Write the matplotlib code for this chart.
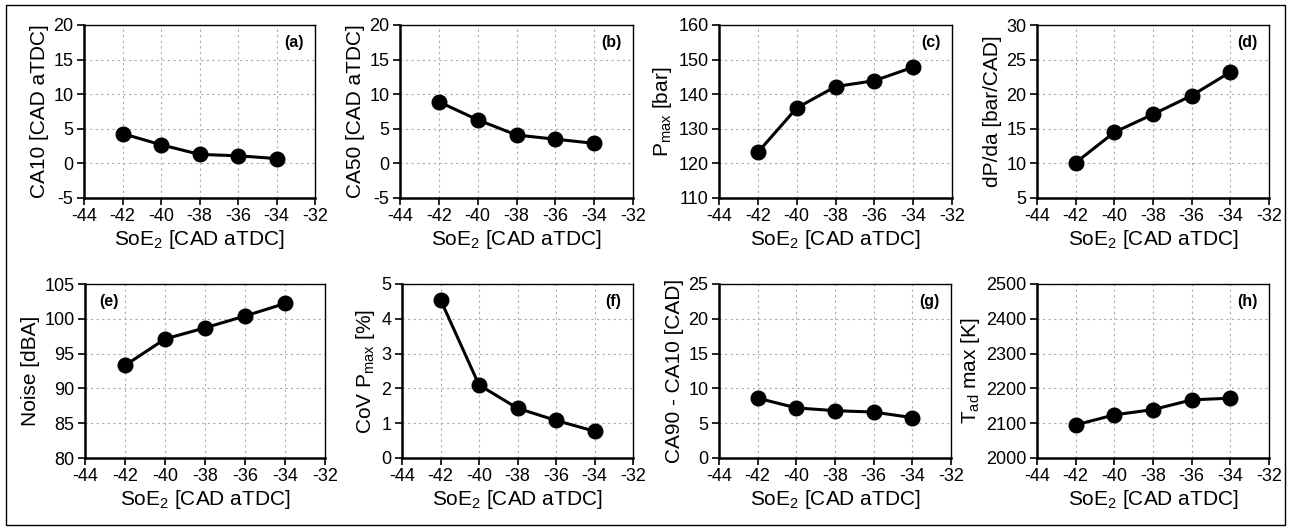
import numpy as np
import matplotlib.pyplot as plt
from matplotlib.patches import Rectangle

plt.rcParams['font.family'] = ['Liberation Sans', 'DejaVu Sans']
plt.rcParams['mathtext.default'] = 'regular'
plt.rcParams['axes.unicode_minus'] = False

# start of energizing 2 [CAD aTDC]
soe = [-42, -40, -38, -36, -34]

ca10 = [4.3, 2.7, 1.3, 1.1, 0.7]
ca50 = [8.9, 6.3, 4.1, 3.5, 2.9]
pmax = [123.2, 136.0, 142.2, 143.9, 147.8]
dpda = [10.1, 14.5, 17.1, 19.8, 23.2]
noise = [93.3, 97.1, 98.7, 100.4, 102.2]
cov_pmax = [4.55, 2.1, 1.43, 1.08, 0.77]
ca90_ca10 = [8.6, 7.2, 6.8, 6.6, 5.8]
tad_max = [2095, 2124, 2139, 2167, 2172]

ylabels = ['CA10 [CAD aTDC]', 'CA50 [CAD aTDC]', 'P$_{max}$ [bar]', 'dP/da [bar/CAD]',
           'Noise [dBA]', 'CoV P$_{max}$ [%]', 'CA90 - CA10 [CAD]', 'T$_{ad}$ max [K]']
ylims = [(-5, 20, 5), (-5, 20, 5), (110, 160, 10), (5, 30, 5),
         (80, 105, 5), (0, 5, 1), (0, 25, 5), (2000, 2500, 100)]
tags = ['(a)', '(b)', '(c)', '(d)', '(e)', '(f)', '(g)', '(h)']
series = [ca10, ca50, pmax, dpda, noise, cov_pmax, ca90_ca10, tad_max]

W, H = 1293, 530
fig = plt.figure(figsize=(W / 100, H / 100), dpi=100)

# axes boxes in pixels: left, right, top, bottom
boxes = [(84, 315, 25, 198), (400, 633, 25, 198), (719, 952, 25, 198), (1037, 1269, 25, 198),
         (85, 325, 284, 458), (402, 633, 284, 458), (719, 951, 284, 458), (1037, 1269, 284, 458)]

for i in range(8):
    l, r, t, b = boxes[i]
    ax = fig.add_axes([l / W, 1 - b / H, (r - l) / W, (b - t) / H])
    ax.plot(soe, series[i], '-o', color='black', lw=2.2, markersize=10.5, zorder=3)
    ax.set_xlim(-44, -32)
    ax.set_xticks(np.arange(-44, -31, 2))
    lo, hi, st = ylims[i]
    ax.set_ylim(lo, hi)
    ax.set_yticks(np.arange(lo, hi + st / 2, st))
    ax.grid(True, color='#aaaaaa', linestyle=(0, (2, 3)), linewidth=0.8)
    ax.set_axisbelow(True)
    ax.tick_params(labelsize=13, direction='out', length=5, width=1.2, pad=2.5)
    for s in ['left', 'bottom']:
        ax.spines[s].set_linewidth(1.8)
    for s in ['top', 'right']:
        ax.spines[s].set_linewidth(1.0)
    ax.set_xlabel('SoE$_2$ [CAD aTDC]', fontsize=15, labelpad=2)
    ax.set_ylabel(ylabels[i], fontsize=15, labelpad=3)
    if i == 4:
        ax.text(0.06, 0.9, tags[i], transform=ax.transAxes, fontsize=11.5,
                fontweight='bold', ha='left', va='center')
    else:
        ax.text(0.95, 0.9, tags[i], transform=ax.transAxes, fontsize=11.5,
                fontweight='bold', ha='right', va='center')

# outer frame
fig.patches.append(Rectangle((6 / W, 5 / H), 1279 / W, 520 / H, transform=fig.transFigure,
                             fill=False, edgecolor='black', linewidth=1.0))

fig.savefig('out.png', dpi=100)
